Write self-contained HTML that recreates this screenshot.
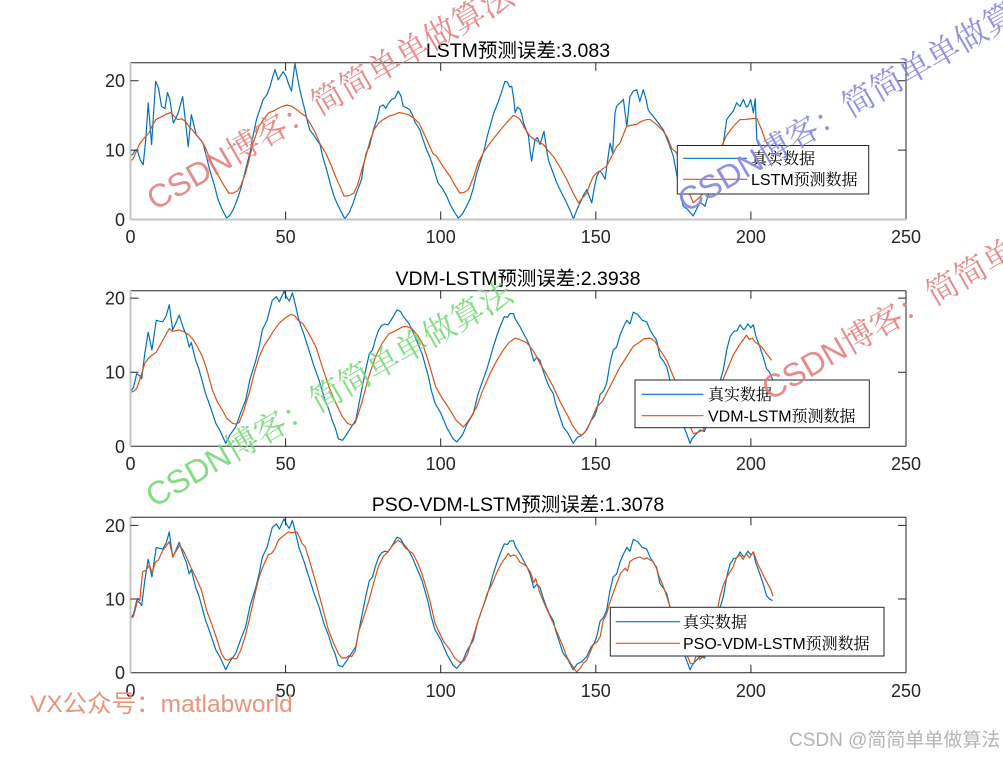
<!DOCTYPE html>
<html><head><meta charset="utf-8"><style>
html,body{margin:0;padding:0;background:#fff;}
svg{display:block;}
.tk{font-family:"Liberation Sans",sans-serif;font-size:18px;fill:#262626;}
.ttl{font-family:"Liberation Sans","Noto Sans CJK SC",sans-serif;font-size:19.5px;fill:#000;}
.lg{font-family:"Liberation Sans","Noto Serif CJK SC",serif;font-size:16px;fill:#000;}
.wm{font-family:"Liberation Sans","Noto Serif CJK SC",serif;font-size:32.5px;}
.ln{fill:none;stroke-width:1.2;stroke-linejoin:round;}
</style></head><body>
<svg width="1003" height="757" viewBox="0 0 1003 757" xmlns="http://www.w3.org/2000/svg">
<rect width="1003" height="757" fill="#fff"/>
<defs>
<clipPath id="c1"><rect x="130.5" y="62.7" width="775.5" height="156.8"/></clipPath>
<clipPath id="c2"><rect x="130.5" y="290.7" width="775.5" height="155.6"/></clipPath>
<clipPath id="c3"><rect x="130.5" y="517.3" width="775.5" height="155.4"/></clipPath>
</defs>

<!-- ============ SUBPLOT 1 ============ -->
<g clip-path="url(#c1)">
<g transform="translate(130.5,219.5) scale(3.102,-6.94)">
<polyline class="ln" vector-effect="non-scaling-stroke" stroke="#0072BD" points="0,9.3 0.7,9.35 1.5,10 2.3,9.8 3.2,8.5 4.1,7.9 5,12 5.7,16.8 6.8,10.8 8.1,19.9 9,19 10,16.3 11.1,16 11.9,18.3 12.7,17.3 13.8,13.9 14.5,14.5 15.4,15.4 16.8,17.7 17.5,15 18.6,10.5 19.6,15.1 20.5,13.5 21.2,12.2 22.5,11.5 23.4,11 24.5,9 25.5,7.2 27,5 28.2,2.9 29.5,1.5 31,0.2 32,0.6 33.1,1.4 34.5,3 35.8,4.8 37,7 38.5,9.6 39.5,12 40.6,14.4 41.8,16 42.8,17.3 44,18 45,19.2 45.8,20.5 46.6,21.6 47.6,20.1 48.5,20.8 49.2,21.3 50.2,20.6 50.8,19.7 51.9,18.5 53,22.5 53.8,20.5 54.6,18.7 55.5,17 56.2,15.8 57,14.2 57.8,12.9 59,12.2 60,11.5 61.1,10.8 62,9 63.2,7.2 64.5,5 65.5,3.5 66.5,2.4 67.8,1.2 69.1,0.1 70.5,1 71.8,2.4 73,4 74.5,5.8 75.2,8 76,9.6 77,10.5 78.3,12.9 79.5,14.5 80.4,16.3 81.5,16.5 82.3,16 83.1,16.7 84.2,17.3 85.2,17.5 86.3,18.5 87.2,17.8 87.9,16.3 89,16.1 90,15.8 91,15 91.6,14.1 92.5,13.5 93.3,12.9 94.3,11.5 95.5,10 96.5,9 97.5,7.7 99.1,5.3 100.5,4.5 101.9,3.4 103,2.2 104.5,1 105.7,0.2 107,0.8 108.2,1.8 109.4,2.9 110.5,4.5 111.5,6.5 112.7,8.2 114,10 115,12 115.9,13.4 117,15.2 118.6,17 119.5,18.2 120.7,19.9 121.5,19.8 122.2,19.1 122.9,19.2 123.5,17.5 124,15.4 124.8,16.2 125.6,15.9 126.2,15 126.7,13.9 127.5,13 128.3,12 128.8,10 129.3,8.4 130.4,11.5 131.2,11.8 132,10.8 133.3,12.7 134,10.5 134.7,8.6 136,7 137.4,5.3 139,3.8 140.6,2.4 141.8,1.2 142.8,0.1 144,1.5 144.9,2.4 146,3.5 147.1,4.3 148,3.2 148.7,2.4 149.5,4.5 150.3,6.2 151.2,7 151.9,6.7 153,5.8 153.8,8.5 154.6,11 155.4,9.6 156.2,15.4 156.7,16.3 157.8,16.8 158.9,17.3 160,13.4 161,17.7 162.1,18.5 163.2,18.7 164.2,17 165.3,18.7 166.1,17.5 166.9,15.8 167.5,15.4 168.5,14.9 170,14 171.8,12.9 173.5,11 175,9.1 176.5,5.5 178.2,1.9 179.5,1.5 181.4,0.5 182.5,1.5 183.6,2.4 184.5,2.2 185.2,1.9 186.5,4 188,6.5 189.5,8.5 191.1,11 192.2,14.4 193.2,15 194.3,15.6 195.4,16.8 196.5,16.3 197.6,17.3 198.5,16.2 199.2,16.4 199.9,17.3 200.8,15.4 201.4,17.4 201.9,11.5 203,10.1 204.5,9 206,8 207,7.5"/>
<polyline class="ln" vector-effect="non-scaling-stroke" stroke="#D95319" points="0,8.6 0.7,8.6 2.8,10.8 4.5,11.8 6,12.5 7,13.5 8.2,14.4 10.4,14.9 11.5,15.2 13,15.4 14,14.9 15.2,14.4 16.5,14.5 17.8,14.1 19,13.3 20,12.9 21.5,12 22.6,11.5 24,10.5 25.3,9.1 26.8,7.5 28.5,6.2 30,5 31.7,3.8 33,3.8 34.4,4.1 35.5,4.8 37.1,6.7 38.2,8.5 39.2,10.5 40.3,12 41.4,13.4 43,14.5 44.6,15.4 46,15.6 47.9,16.1 49,16.3 50.5,16.5 52,16.3 53.7,15.8 55,15.3 56.4,14.9 58,13.8 59.6,12.5 61,11 62.9,9.6 64.5,8 66.1,6.2 67.5,4.8 68.8,3.4 70.3,3.4 72,3.8 73.2,5 74.6,7.2 76,9.3 77.3,11.5 78.6,13 80,13.9 81.5,14.4 83.3,14.9 85,15.1 86.5,15.4 88,15.3 89.7,15.1 91.3,14.6 93,13.9 94.5,12.5 96,11 97.5,9.5 98.7,9.1 100.5,7.8 103,6.2 104.5,5 106.2,3.8 107.5,3.9 108.9,4.3 110.5,6 112.1,8.2 114,9.8 115.9,11 118,12.2 120.2,13.4 121.8,14.2 123.4,15 124.5,14.8 125.6,14.4 127,13.2 128.8,12 130,11.6 131.5,11.2 133.1,10.8 134.5,10 136.3,9.1 138.5,7.5 140.6,5.8 142.5,4 144.4,2.4 145.5,3 147.1,3.8 148,5 149.2,6.2 150.5,6.8 151.4,7 153.5,7.7 155,9 156.7,10.5 157.8,11 159.9,13.4 161.5,13.6 163.2,13.7 164.5,14.1 166.4,14.4 167.5,14.4 169.6,13.7 171.8,12.7 172.9,12 174.5,10.2 176.1,9.6 178,7 180,4 181.4,2.4 183,3 184.7,3.8 186.5,5 188,7 190,10 192,12 194.3,13.4 196.5,14.4 198,14.4 199.7,14.5 201.9,14.6 203.5,12.9 204.6,11.5 206,10.2 207,9.5"/>
</g></g>
<!-- axes 1 -->
<line x1="130.5" y1="62.7" x2="906" y2="62.7" stroke="#262626" stroke-width="1"/>
<line x1="906" y1="62.7" x2="906" y2="219.5" stroke="#262626" stroke-width="1"/>
<line x1="130.5" y1="219.5" x2="906" y2="219.5" stroke="#c4c4c4" stroke-width="2"/>
<line x1="130.5" y1="62.7" x2="130.5" y2="219.5" stroke="#c4c4c4" stroke-width="2"/>
<g stroke="#262626" stroke-width="1">
<path d="M285.6,219.5v-8M440.7,219.5v-8M595.8,219.5v-8M750.9,219.5v-8M285.6,62.7v8M440.7,62.7v8M595.8,62.7v8M750.9,62.7v8"/>
<path d="M130.5,150.1h8M130.5,80.7h8M906,150.1h-8M906,80.7h-8"/>
</g>
<g class="tk" text-anchor="middle">
<text x="130.5" y="243">0</text><text x="285.6" y="243">50</text><text x="440.7" y="243">100</text><text x="595.8" y="243">150</text><text x="750.9" y="243">200</text><text x="906" y="243">250</text>
</g>
<g class="tk" text-anchor="end">
<text x="125" y="226">0</text><text x="125" y="156.6">10</text><text x="125" y="87.2">20</text>
</g>
<text class="ttl" x="518" y="57" text-anchor="middle">LSTM预测误差:3.083</text>
<!-- legend 1 -->
<rect x="677.3" y="145.5" width="191.4" height="48.5" fill="#fff" stroke="#262626" stroke-width="1"/>
<line x1="683" y1="158.3" x2="747" y2="158.3" stroke="#0072BD" stroke-width="1.2"/>
<line x1="683" y1="179.3" x2="747" y2="179.3" stroke="#D95319" stroke-width="1.2"/>
<text class="lg" x="751" y="164">真实数据</text>
<text class="lg" x="751" y="185">LSTM预测数据</text>

<!-- ============ SUBPLOT 2 ============ -->
<g clip-path="url(#c2)">
<g transform="translate(130.5,446.3) scale(3.102,-7.41)">
<polyline class="ln" vector-effect="non-scaling-stroke" stroke="#0072BD" points="0,7.3 1,8 2,9.8 3,9.5 3.6,9.1 4.6,12.5 5.7,15.4 6.9,13 8.3,17 9.2,16.9 10.4,16.8 11.5,17.6 12.5,19.1 13.6,15.7 14.5,16.5 15.7,17.7 17,16 18,15 18.9,13.4 19.6,14 21,11.6 22,10.5 23,9 24.2,7.1 25,6.2 26,5 27.5,3.1 29,2 30.7,0.4 32,1.5 33.9,2.6 35.5,4.5 37.1,6.2 38.5,9 40.4,11.6 41.5,13.5 42.5,15.7 44,17 45.7,19.7 47,20.2 48,19.5 49.5,20.9 50.5,20 51.2,19.6 52.2,20.7 53.2,19 54.3,17 56,15 57.5,13 59,11 60.8,8.9 62.5,6.5 64,4.9 65,3.5 66,2.5 67,1 68.3,0.8 69.5,1.5 71,2.5 72.6,3.5 74,6.5 75.8,10.3 77,12.5 78,13 79,14.5 80,15.7 81,16.3 82,16.5 83,16.4 84,17 85.9,18.4 87,18.2 88,17.5 89.7,16.6 91,15.5 92.5,14 94,12.5 95,11 96,9.5 97,7.5 98.2,5.8 100,4.5 102,2.5 104,1 105.2,0.6 107,1.5 108.5,3 110.5,4.4 112,7 113.5,8.8 114.8,10.3 116,12 117,13.5 118,14.8 119.1,16.1 120.5,17.5 121.5,17.4 122.3,17.9 123.5,17.9 124,17.2 125.6,16.1 127,15 128,14.2 128.8,13.4 130,11.5 131,12 132,11.6 133,10.2 134,9 135,8 136.3,7.1 137,5.8 138,4.5 139.5,2.6 141,1.8 142.7,0.4 144,1.2 145.5,1.5 147.1,2.2 148.5,3.5 149.5,4 150.3,4.9 151.4,7 152.5,7.5 153.5,8.5 154.5,11 155.6,13 156.7,13.4 157.8,15 158.9,16.1 160,17 161,16.5 162.1,18.1 163.5,17.8 165,17 166.4,16.8 167.5,15.7 168.5,15 169.6,14.3 170.7,12.1 171.8,11.5 172.9,10.7 173.9,8.9 175,7 176,5.5 177,4.2 178,3 179,2 180.4,0.4 181,1 182,1.5 183.6,2.2 185,2 186,3 187,4.5 188,6 189.5,8 191.1,10.3 192.2,13 193.3,14.8 194.5,15.5 195.5,15.6 196.5,16.4 197.5,15.8 198,15.8 199,16.5 200,16 200.8,16.4 201.5,15 202.9,13.4 204,12 205,10.5 206,10 207,9"/>
<polyline class="ln" vector-effect="non-scaling-stroke" stroke="#D95319" points="0,7.3 1,7.4 2,7.8 3,9 4.6,11.2 6,12 8.3,12.7 10,14 12.5,15.9 13.5,15.5 15.7,15.7 17,15.5 18.9,15 20,14.5 21.5,13.5 23.2,12.1 24.5,10.5 26.4,7.6 28,6 29.6,4.9 31,3.8 32.9,3.1 34,3 35,3.2 36.5,4.8 38.2,7.1 40,10 41.5,12.1 43,13.5 44.7,14.6 46,15.5 47.9,16.6 49.5,17.2 51.7,17.8 53,17.6 54,17 55.5,16.6 57.5,15.2 59.8,13.4 62,10.5 64,8 66,6 68.3,4 70,3.1 71.5,2.8 72.5,3.2 73.5,4.5 74.8,6.2 76.5,9 79,12.1 81,13.8 83.3,15.2 85,15.5 87.6,16.1 89,16.2 90.9,15.8 92.5,15 94.1,13.9 96,11.5 98.4,8 100.5,6.5 103,4.9 105,3.5 107.3,2.6 108.5,3.2 109.5,3.8 111.6,5.3 113.5,7.5 115.9,9.8 118,11.5 120.2,13 122,14 124,14.6 125.5,14.4 127.7,14 130,12.8 132,11.2 134,9.8 136.3,8 138.5,6 140.6,4.4 142.5,2.8 144.4,1.7 145.5,1.5 146.5,1.9 148,3 150.3,5.3 152,6 153.5,7.2 155.6,8.9 157.8,10.7 160,12.1 162.1,13.5 164.3,14.1 165.5,14.5 167.5,14.6 169,14.2 170.7,13 172.9,11.6 175,9.4 176.5,8 178.5,5.5 180,3 181.5,1.7 183,1.9 184.7,2.2 186,3.5 188,5.5 189.5,7.5 191.1,9.1 192.5,10.5 194.3,12.3 196,13.5 198.6,15 199.5,14.4 200.5,14.6 201.3,14.1 202.5,13.7 203.5,13.4 205,12.5 206.7,11.6"/>
</g></g>
<line x1="130.5" y1="290.7" x2="906" y2="290.7" stroke="#262626" stroke-width="1"/>
<line x1="906" y1="290.7" x2="906" y2="446.3" stroke="#262626" stroke-width="1"/>
<line x1="130.5" y1="446.3" x2="906" y2="446.3" stroke="#262626" stroke-width="1"/>
<line x1="130.5" y1="290.7" x2="130.5" y2="446.3" stroke="#c4c4c4" stroke-width="2"/>
<g stroke="#262626" stroke-width="1">
<path d="M285.6,446.3v-8M440.7,446.3v-8M595.8,446.3v-8M750.9,446.3v-8M285.6,290.7v8M440.7,290.7v8M595.8,290.7v8M750.9,290.7v8"/>
<path d="M130.5,372.2h8M130.5,298.1h8M906,372.2h-8M906,298.1h-8"/>
</g>
<g class="tk" text-anchor="middle">
<text x="130.5" y="470">0</text><text x="285.6" y="470">50</text><text x="440.7" y="470">100</text><text x="595.8" y="470">150</text><text x="750.9" y="470">200</text><text x="906" y="470">250</text>
</g>
<g class="tk" text-anchor="end">
<text x="125" y="452.8">0</text><text x="125" y="378.7">10</text><text x="125" y="304.6">20</text>
</g>
<text class="ttl" x="518" y="285" text-anchor="middle">VDM-LSTM预测误差:2.3938</text>
<rect x="635" y="380" width="234.3" height="47.7" fill="#fff" stroke="#262626" stroke-width="1"/>
<line x1="641.7" y1="394.3" x2="703.3" y2="394.3" stroke="#0072BD" stroke-width="1.2"/>
<line x1="641.7" y1="415.7" x2="703.3" y2="415.7" stroke="#D95319" stroke-width="1.2"/>
<text class="lg" x="708" y="400">真实数据</text>
<text class="lg" x="708" y="421.4">VDM-LSTM预测数据</text>

<!-- ============ SUBPLOT 3 ============ -->
<g clip-path="url(#c3)">
<g transform="translate(130.5,672.7) scale(3.102,-7.365)">
<polyline class="ln" vector-effect="non-scaling-stroke" stroke="#0072BD" points="0,7.3 1,8 2,9.8 3,9.5 3.6,9.1 4.6,12.5 5.7,15.4 6.9,13 8.3,17 9.2,16.9 10.4,16.8 11.5,17.6 12.5,19.1 13.6,15.7 14.5,16.5 15.7,17.7 17,16 18,15 18.9,13.4 19.6,14 21,11.6 22,10.5 23,9 24.2,7.1 25,6.2 26,5 27.5,3.1 29,2 30.7,0.4 32,1.5 33.9,2.6 35.5,4.5 37.1,6.2 38.5,9 40.4,11.6 41.5,13.5 42.5,15.7 44,17 45.7,19.7 47,20.2 48,19.5 49.5,20.9 50.5,20 51.2,19.6 52.2,20.7 53.2,19 54.3,17 56,15 57.5,13 59,11 60.8,8.9 62.5,6.5 64,4.9 65,3.5 66,2.5 67,1 68.3,0.8 69.5,1.5 71,2.5 72.6,3.5 74,6.5 75.8,10.3 77,12.5 78,13 79,14.5 80,15.7 81,16.3 82,16.5 83,16.4 84,17 85.9,18.4 87,18.2 88,17.5 89.7,16.6 91,15.5 92.5,14 94,12.5 95,11 96,9.5 97,7.5 98.2,5.8 100,4.5 102,2.5 104,1 105.2,0.6 107,1.5 108.5,3 110.5,4.4 112,7 113.5,8.8 114.8,10.3 116,12 117,13.5 118,14.8 119.1,16.1 120.5,17.5 121.5,17.4 122.3,17.9 123.5,17.9 124,17.2 125.6,16.1 127,15 128,14.2 128.8,13.4 130,11.5 131,12 132,11.6 133,10.2 134,9 135,8 136.3,7.1 137,5.8 138,4.5 139.5,2.6 141,1.8 142.7,0.4 144,1.2 145.5,1.5 147.1,2.2 148.5,3.5 149.5,4 150.3,4.9 151.4,7 152.5,7.5 153.5,8.5 154.5,11 155.6,13 156.7,13.4 157.8,15 158.9,16.1 160,17 161,16.5 162.1,18.1 163.5,17.8 165,17 166.4,16.8 167.5,15.7 168.5,15 169.6,14.3 170.7,12.1 171.8,11.5 172.9,10.7 173.9,8.9 175,7 176,5.5 177,4.2 178,3 179,2 180.4,0.4 181,1 182,1.5 183.6,2.2 185,2 186,3 187,4.5 188,6 189.5,8 191.1,10.3 192.2,13 193.3,14.8 194.5,15.5 195.5,15.6 196.5,16.4 197.5,15.8 198,15.8 199,16.5 200,16 200.8,16.4 201.5,15 202.9,13.4 204,12 205,10.5 206,10 207,9.8"/>
<polyline class="ln" vector-effect="non-scaling-stroke" stroke="#D95319" points="0,7.4 0.9,7.6 1.5,8.5 2.4,10.1 3,9.8 3.9,13.7 5,13.9 6.1,14.6 7,13.5 8,15 9,15.3 10.4,16.6 11.5,17.2 12.5,17.8 13.7,15.7 14.5,16.4 15.9,17.3 17,16.6 18,15.7 19.6,14.2 21,13 22.9,11.2 24.5,8.5 26.1,6.7 27.5,5 29.3,2.6 30.5,1.8 31.5,1.7 32.5,2 33.5,1.9 34.2,1.9 35.5,3 37,5 38,6.7 39.5,9.5 41.2,12.6 42.5,14.2 44.4,16 45.5,16.2 46.5,16.8 47.7,18 49,18.5 50.9,19.1 52,19 53.6,19.1 54.5,18.4 55.2,17.6 56.3,17.1 57.5,15.5 59.5,12.6 61.5,9.5 63.8,5.8 65.5,4 67,2.6 68.1,2 69.5,2 70.3,2.3 71.3,2.2 72.5,3 73.5,5.5 75.6,8.1 77,10 78,11.6 79.9,14.4 81.5,15.8 83,16.4 84.5,17.3 86.3,18 87.5,17.6 88.5,17 89.6,16.6 91,16.2 92.5,15 93.9,13.5 95,12 96.5,9.8 98.2,6.7 99.5,5.5 101,4.2 103,3.1 104.5,2 106.2,1.4 107.5,1.6 108.5,2.4 110.5,4.9 112,7 113.7,9 115,10.8 116.5,12 118,13.5 119.5,14.8 121.8,16.2 122.5,15.8 123.5,16 124.4,15.8 125.5,15 126.5,14.8 127.7,14.4 129,13.6 130,12.2 130.6,12.8 132,10.8 134,8.8 136.3,6.7 138,5 139.5,3.5 140.6,2.2 142,1.2 143.8,0.1 145,0.6 146,1.3 147.1,1.7 148,2.6 149.2,3.8 150.5,4.2 151.5,5 152.4,7.1 153.5,8 154.5,9.5 156.7,12.1 158,13.5 159.5,14.2 160.2,13.8 161,15.1 162.5,15.5 164.2,15.7 165.5,15.4 166.5,15.6 167.5,15.3 168.5,15.1 169.5,14.2 170.5,13 171.8,11.7 173.9,9 175.5,7 177,5 178.5,3.2 180,1.8 180.4,1.3 181.5,1.2 182.5,2.5 183.5,1.8 184.7,2.2 186,3 187.5,5 189,8 190,10.3 191.2,12 192.3,13 194.3,14.4 195.3,15.6 196.5,16 197.5,15.4 198.5,16.2 199.5,15.6 200.8,16.4 201.6,15.5 202.5,14.5 203.5,13.7 204.5,12.8 205.5,12 206.5,11.2 207.1,10.4"/>
</g></g>
<line x1="130.5" y1="517.3" x2="906" y2="517.3" stroke="#262626" stroke-width="1"/>
<line x1="906" y1="517.3" x2="906" y2="672.7" stroke="#262626" stroke-width="1"/>
<line x1="130.5" y1="672.7" x2="906" y2="672.7" stroke="#262626" stroke-width="1"/>
<line x1="130.5" y1="517.3" x2="130.5" y2="672.7" stroke="#c4c4c4" stroke-width="2"/>
<g stroke="#262626" stroke-width="1">
<path d="M285.6,672.7v-8M440.7,672.7v-8M595.8,672.7v-8M750.9,672.7v-8M285.6,517.3v8M440.7,517.3v8M595.8,517.3v8M750.9,517.3v8"/>
<path d="M130.5,599h8M130.5,525.4h8M906,599h-8M906,525.4h-8"/>
</g>
<g class="tk" text-anchor="middle">
<text x="130.5" y="697">0</text><text x="285.6" y="697">50</text><text x="440.7" y="697">100</text><text x="595.8" y="697">150</text><text x="750.9" y="697">200</text><text x="906" y="697">250</text>
</g>
<g class="tk" text-anchor="end">
<text x="125" y="679.2">0</text><text x="125" y="605.5">10</text><text x="125" y="531.9">20</text>
</g>
<text class="ttl" x="518" y="511" text-anchor="middle">PSO-VDM-LSTM预测误差:1.3078</text>
<rect x="610.3" y="607.3" width="273.7" height="48.7" fill="#fff" stroke="#262626" stroke-width="1"/>
<line x1="615.7" y1="621.7" x2="680" y2="621.7" stroke="#0072BD" stroke-width="1.2"/>
<line x1="615.7" y1="643.3" x2="680" y2="643.3" stroke="#D95319" stroke-width="1.2"/>
<text class="lg" x="683" y="627.4">真实数据</text>
<text class="lg" x="683" y="649">PSO-VDM-LSTM预测数据</text>

<!-- ============ WATERMARKS ============ -->
<text class="wm" fill="#e07878" fill-opacity="0.85" transform="translate(155,211) rotate(-30)">CSDN博客：简简单单做算法</text>
<text class="wm" fill="#8585e0" fill-opacity="0.9" transform="translate(686,213) rotate(-30)">CSDN博客：简简单单做算法</text>
<text class="wm" fill="#e07878" fill-opacity="0.85" transform="translate(770,401) rotate(-30)">CSDN博客：简简单单做算法</text>
<text class="wm" fill="#78d878" fill-opacity="0.9" transform="translate(154,508) rotate(-30)">CSDN博客：简简单单做算法</text>
<text x="30" y="712" fill="#e8957c" style="font-family:'Liberation Sans','Noto Sans CJK SC',sans-serif;font-size:24.5px;">VX公众号：matlabworld</text>
<text x="789" y="746" fill="#b4b4b4" style="font-family:'Liberation Sans','Noto Sans CJK SC',sans-serif;font-size:19px;">CSDN @简简单单做算法</text>
</svg>
</body></html>
